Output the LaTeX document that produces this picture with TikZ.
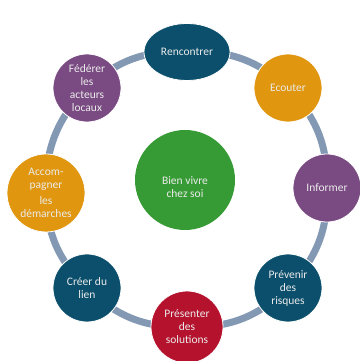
\documentclass[tikz,border=0pt]{standalone}
\usepackage{fontspec}
\setmainfont{Carlito}
\usetikzlibrary{
    backgrounds,      % For drawing the ring behind the circles
    shapes.geometric  % For the ellipse of the top step
}
\definecolor{ringblue}{HTML}{8399B3}
\definecolor{darkteal}{HTML}{0B4F6C}
\definecolor{ochre}{HTML}{E0960E}
\definecolor{plum}{HTML}{7A4B82}
\definecolor{crimson}{HTML}{B5122E}
\definecolor{leaf}{HTML}{379B35}
\tikzset{
    % Style for the actions placed on the ring
    action/.style={
        circle,
        draw=white,
        line width=0.8pt,
        minimum size=68pt,
        inner sep=1pt,
        align=center,
        text=white!92!black,
        font=\fontsize{11.5}{13}\selectfont
    },
    % Style for the central goal
    hub/.style={
        circle,
        fill=leaf,
        minimum size=100pt,
        inner sep=0pt
    },
    % Style for the ring segments
    ring/.style={
        line width=7pt,
        draw=ringblue
    }
}
\begin{document}
\begin{tikzpicture}[x=1pt, y=1pt]
    \useasboundingbox (0,0) rectangle (359,361);

    % --- Centre of the ring ---
    \node (hub) [hub, label={[align=center, text=white!92!black,
        font=\fontsize{11.5}{13}\selectfont, yshift=-7pt]center:Bien vivre\\chez soi}]
        at (185,181) {};

    % --- The eight actions, clockwise from the top ---
    \node (rencontrer)  [action, ellipse, fill=darkteal, minimum width=86pt, minimum height=57pt] at (187,309) {Rencontrer};
    \node (ecouter)     [action, fill=ochre]    at (288,273) {Ecouter};
    \node (informer)    [action, fill=plum]     at (327,173) {Informer};
    \node (prevenir)    [action, fill=darkteal] at (288,73)  {Prévenir\\des\\risques};
    \node (presenter)   [action, fill=crimson, minimum size=72pt] at (187,34) {Présenter\\des\\solutions};
    \node (creer)       [action, fill=darkteal] at (87,73)   {Créer du\\lien};
    \node (accompagner) [action, fill=ochre, minimum size=78pt] at (46,168) {Accom-\\pagner\\[3pt]les\\démarches};
    \node (federer)     [action, fill=plum]     at (87,273)  {Fédérer\\les\\acteurs\\locaux};

    % --- Ring linking the actions ---
    \begin{scope}[on background layer]
        \foreach \from/\to in {rencontrer/ecouter, ecouter/informer, informer/prevenir,
                prevenir/presenter, presenter/creer, creer/accompagner,
                accompagner/federer, federer/rencontrer}
            \draw [ring] (\from.center) to[bend left=22.5] (\to.center);
    \end{scope}
\end{tikzpicture}
\end{document}
